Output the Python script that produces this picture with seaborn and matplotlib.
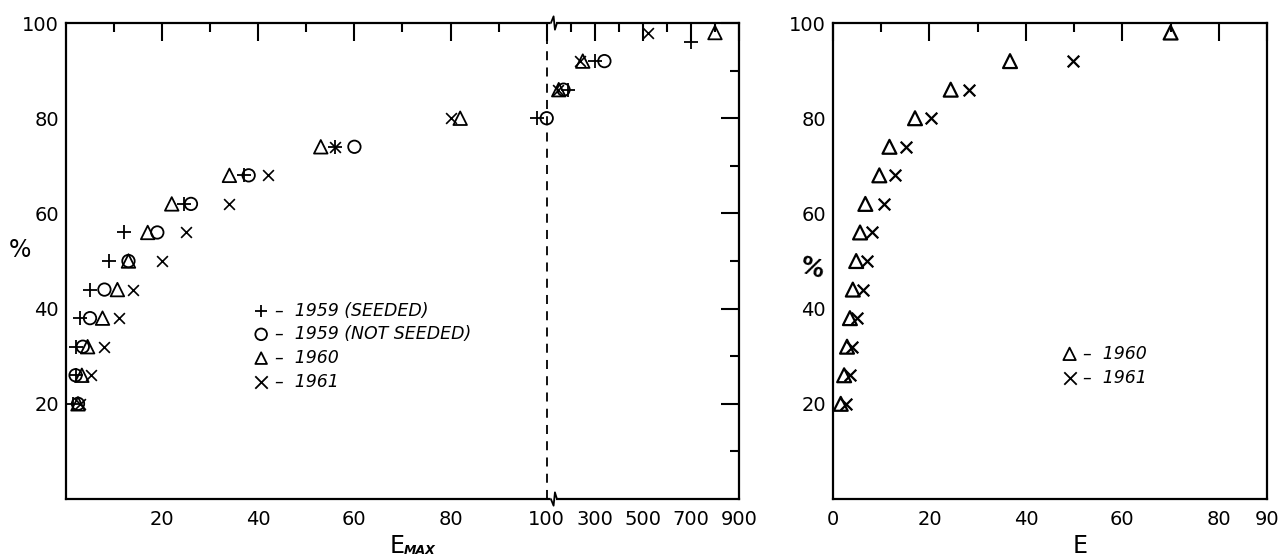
import numpy as np
import matplotlib
matplotlib.use("Agg")
import matplotlib.pyplot as plt
import seaborn as sns

# percent rows (left and right panels share them)
pct = [20, 26, 32, 38, 44, 50, 56, 62, 68, 74, 80, 86, 92, 98]
pct_seeded = [20, 26, 32, 38, 44, 50, 56, 62, 68, 74, 80, 86, 92, 96]

# left panel: E_MAX
emax_1959_seeded = [1.5, 2, 2, 3, 5, 9, 12, 24.5, 37, 56, 98, 190, 300, 700]
emax_1959_not_seeded = [2.5, 2, 3.5, 5, 8, 13, 19, 26, 38, 60, 100, 170, 340]
emax_1960 = [2.5, 3.3, 4.5, 7.6, 10.7, 13, 17, 22, 34, 53, 82, 150, 250, 800]
emax_1961 = [3, 5.2, 8, 11, 14, 20, 25, 34, 42, 56, 80, 145, 240, 520]

# right panel: E
e_1960 = [1.6, 2.3, 2.9, 3.5, 4.1, 4.8, 5.6, 6.7, 9.6, 11.7, 17, 24.4, 36.7, 70]
e_1961 = [2.7, 3.5, 3.9, 4.9, 6.2, 7, 8, 10.5, 12.9, 15.2, 20.4, 28.2, 49.8]

left_xticks = [20, 40, 60, 80, 100, 300, 500, 700, 900]
left_xminor = [10, 30, 50, 70, 90, 200, 400, 600, 800]
right_xticks = [0, 20, 40, 60, 80, 90]
right_xminor = [10, 30, 50, 70]
yticks = [20, 40, 60, 80, 100]
yminor = [10, 30, 50, 70, 90]

sns.set_theme(style="white")
plt.rcParams["font.family"] = ["DejaVu Sans"]
plt.rcParams["text.color"] = "black"
plt.rcParams["xtick.color"] = "black"
plt.rcParams["ytick.color"] = "black"
plt.rcParams["xtick.labelcolor"] = "black"
plt.rcParams["ytick.labelcolor"] = "black"

K = 0.05  # compression above the break at 100


def fwd(x):
    x = np.asarray(x, dtype=float)
    return np.where(x <= 100, x, 100 + (x - 100) * K)


def inv(x):
    x = np.asarray(x, dtype=float)
    return np.where(x <= 100, x, 100 + (x - 100) / K)


fig = plt.figure(figsize=(12.81, 5.59), dpi=100)
axl = fig.add_axes([0.0515, 0.1073, 0.5254, 0.8515])
axr = fig.add_axes([0.6503, 0.1073, 0.3388, 0.8515])

mk = dict(color="black", legend=False, zorder=3)
sns.scatterplot(x=emax_1959_seeded, y=pct_seeded, marker="+", s=95, linewidth=1.3, ax=axl, **mk)
sns.scatterplot(x=emax_1959_not_seeded, y=pct[:len(emax_1959_not_seeded)], marker="o", s=80,
                facecolors="none", edgecolor="black", linewidth=1.3, ax=axl, legend=False, zorder=3)
sns.scatterplot(x=emax_1960, y=pct, marker="^", s=95, facecolors="none", edgecolor="black",
                linewidth=1.3, ax=axl, legend=False, zorder=3)
sns.scatterplot(x=emax_1961, y=pct, marker="x", s=60, linewidth=1.2, ax=axl, **mk)

sns.scatterplot(x=e_1960, y=pct, marker="^", s=100, facecolors="none", edgecolor="black",
                linewidth=1.6, ax=axr, legend=False, zorder=3)
sns.scatterplot(x=e_1961, y=pct[:len(e_1961)], marker="x", s=70, linewidth=1.6, ax=axr, **mk)

axl.set_xscale("function", functions=(fwd, inv))
axl.set_xlim(0, 900)
axr.set_xlim(0, 90)
for ax in (axl, axr):
    ax.set_ylim(0, 100)
    ax.set_yticks(yticks)
    ax.set_yticks(yminor, minor=True)
    ax.set_yticklabels([str(v) for v in yticks], fontsize=14)
    for s in ax.spines.values():
        s.set_linewidth(1.6)
        s.set_color("black")
    ax.tick_params(which="both", direction="in", top=True, right=True, color="black", width=1.5)
    ax.tick_params(which="major", length=13, labelsize=14, pad=8)
    ax.tick_params(which="minor", length=6.5)
    ax.tick_params(axis="y", which="major", pad=5)
    ax.set_xlabel("")
    ax.set_ylabel("")

axl.set_xticks(left_xticks)
axl.set_xticks(left_xminor, minor=True)
axl.set_xticklabels([str(v) for v in left_xticks], fontsize=14)
axr.set_xticks(right_xticks)
axr.set_xticks(right_xminor, minor=True)
axr.set_xticklabels([str(v) for v in right_xticks], fontsize=14)
axr.tick_params(right=False, which="both")

# dashed line at the break
axl.axvline(100, color="black", linestyle=(0, (5, 4)), linewidth=1.3, zorder=1)

# break marks on top and bottom spines
for yb, sgn in ((0.0, -1), (1.0, 1)):
    axl.plot([0.7215, 0.7255], [yb, yb], color="white", lw=3, transform=axl.transAxes,
             clip_on=False, zorder=5)
    axl.plot([0.7205, 0.7245, 0.7265, 0.7295], [yb, yb + sgn * 0.014, yb - sgn * 0.014, yb],
             color="black", lw=1.3, transform=axl.transAxes, clip_on=False, zorder=6)

# axis labels
axl.text(-0.068, 0.523, "%", transform=axl.transAxes, fontsize=17, ha="center", va="center")
axr.text(-0.05, 0.485, "%", transform=axr.transAxes, fontsize=17, ha="center", va="center",
         fontweight="bold", rotation=-15)
axl.text(0.492, -0.098, "E", transform=axl.transAxes, fontsize=17, ha="center", va="center")
axl.text(0.502, -0.108, "MAX", transform=axl.transAxes, fontsize=9, ha="left", va="center",
         fontweight="bold", fontstyle="italic")
axr.text(0.569, -0.098, "E", transform=axr.transAxes, fontsize=17, ha="center", va="center")

# legends written as in the original
leg_l = [("+", "1959 (SEEDED)"), ("o", "1959 (NOT SEEDED)"), ("^", "1960"), ("x", "1961")]
for i, (m, lab) in enumerate(leg_l):
    yy = 0.396 - i * 0.05
    axl.scatter([0.29], [yy], marker=m, s=80 if m in "+x" else 70,
                facecolors="none" if m in "o^" else "black", edgecolors="black",
                linewidths=1.3, transform=axl.transAxes)
    axl.text(0.31, yy, "–  " + lab, transform=axl.transAxes, fontsize=12.5, va="center",
             fontstyle="italic")

leg_r = [("^", "1960"), ("x", "1961")]
for i, (m, lab) in enumerate(leg_r):
    yy = 0.305 - i * 0.05
    axr.scatter([0.545], [yy], marker=m, s=80, facecolors="none" if m == "^" else "black",
                edgecolors="black", linewidths=1.3, transform=axr.transAxes)
    axr.text(0.575, yy, "–  " + lab, transform=axr.transAxes, fontsize=12.5, va="center",
             fontstyle="italic")

fig.savefig("out.png", dpi=100, facecolor="white")
